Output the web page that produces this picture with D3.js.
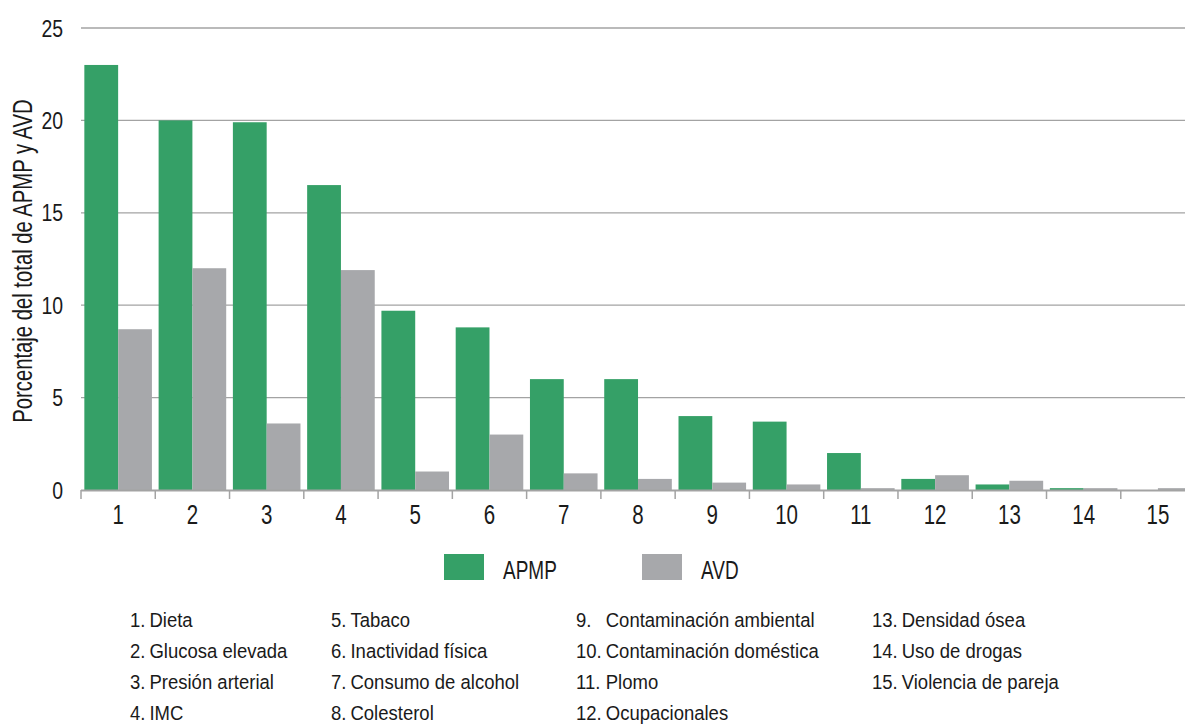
<!DOCTYPE html>
<html>
<head>
<meta charset="utf-8">
<script src="https://cdn.jsdelivr.net/npm/d3@7"></script>
<style>
  html, body { margin: 0; padding: 0; background: #ffffff; }
  svg { display: block; }
  text { font-family: "Liberation Sans", Arial, sans-serif; fill: #1a1a1a; }
</style>
</head>
<body>
<svg id="chart" width="1185" height="727"></svg>
<script>
const categories = ["1","2","3","4","5","6","7","8","9","10","11","12","13","14","15"];
const apmp = [23.0, 20.0, 19.9, 16.5, 9.7, 8.8, 6.0, 6.0, 4.0, 3.7, 2.0, 0.6, 0.3, 0.1, 0.0];
const avd  = [8.7, 12.0, 3.6, 11.9, 1.0, 3.0, 0.9, 0.6, 0.4, 0.3, 0.1, 0.8, 0.5, 0.1, 0.1];
const seriesNames = ["APMP", "AVD"];
const seriesColors = ["#35a067", "#a7a8ab"];
const yTicks = [0, 5, 10, 15, 20, 25];
const yTitle = "Porcentaje del total de APMP y AVD";
const riskLabels = [
  ["1.", "Dieta"], ["2.", "Glucosa elevada"], ["3.", "Presión arterial"], ["4.", "IMC"],
  ["5.", "Tabaco"], ["6.", "Inactividad física"], ["7.", "Consumo de alcohol"], ["8.", "Colesterol"],
  ["9.", "Contaminación ambiental"], ["10.", "Contaminación doméstica"], ["11.", "Plomo"], ["12.", "Ocupacionales"],
  ["13.", "Densidad ósea"], ["14.", "Uso de drogas"], ["15.", "Violencia de pareja"]
];

const svg = d3.select("#chart");
const left = 81, zeroY = 490, topY = 28;
const step = 74.27;
const x = d3.scaleBand().domain(categories)
  .range([left, left + step * categories.length])
  .paddingInner(0.09).paddingOuter(0.045);
const xs = d3.scaleBand().domain(seriesNames).range([0, x.bandwidth()]);
const y = d3.scaleLinear().domain([0, 25]).range([zeroY, topY]);

// condensed text helper: place at (px,py) and squeeze horizontally
function ctext(sel, px, py, sx) {
  return sel.attr("transform", `translate(${px},${py}) scale(${sx},1)`);
}

// gridlines
svg.append("g").selectAll("line").data(yTicks.filter(d => d > 0)).join("line")
  .attr("x1", left).attr("x2", 1185)
  .attr("y1", d => y(d)).attr("y2", d => y(d))
  .attr("stroke", "#a3a3a3").attr("stroke-width", 1.3);

// y tick labels
svg.append("g").selectAll("text").data(yTicks).join("text")
  .attr("transform", d => `translate(63,${y(d)}) scale(0.81,1)`)
  .attr("dy", "0.36em")
  .attr("text-anchor", "end").attr("font-size", 24)
  .text(d => d);

// bars
const series = [apmp, avd];
series.forEach((vals, si) => {
  svg.append("g").selectAll("rect").data(categories).join("rect")
    .attr("x", (c) => x(c) + xs(seriesNames[si]))
    .attr("width", xs.bandwidth())
    .attr("y", (c, i) => y(vals[i]))
    .attr("height", (c, i) => zeroY - y(vals[i]))
    .attr("fill", seriesColors[si]);
});

// x axis line and boundary ticks
const pad = x.step() * x.paddingInner() / 2;
svg.append("line").attr("x1", left).attr("x2", 1185)
  .attr("y1", zeroY + 0.5).attr("y2", zeroY + 0.5)
  .attr("stroke", "#a3a3a3").attr("stroke-width", 2);
const bounds = categories.map(c => x(c) - pad).concat([x(categories[categories.length - 1]) + x.bandwidth() + pad]);
svg.append("g").selectAll("line").data(bounds).join("line")
  .attr("x1", d => d).attr("x2", d => d)
  .attr("y1", zeroY).attr("y2", zeroY + 9)
  .attr("stroke", "#a3a3a3").attr("stroke-width", 1.5);
svg.append("g").selectAll("text").data(categories).join("text")
  .attr("transform", c => `translate(${x(c) + x.bandwidth() / 2},524) scale(0.76,1)`)
  .attr("text-anchor", "middle").attr("font-size", 27)
  .text(c => c);

// y title
svg.append("text")
  .attr("transform", "translate(32,261) rotate(-90) scale(0.75,1)")
  .attr("text-anchor", "middle").attr("font-size", 27)
  .text(yTitle);

// legend
const legendX = [444, 642];
seriesNames.forEach((n, i) => {
  svg.append("rect").attr("x", legendX[i]).attr("y", 554).attr("width", 40).attr("height", 26)
    .attr("fill", seriesColors[i]);
  ctext(svg.append("text"), legendX[i] + 59, 579, 0.76)
    .attr("font-size", 25).text(n);
});

// risk factor list
const colX = [130, 331, 576, 872];
const rowY = [627, 658, 689, 720];
const listScale = 0.95;
const list = svg.append("g").attr("font-size", 19.5);
const cols = d3.groups(riskLabels.map((r, i) => ({ r, i })), d => Math.floor(d.i / 4));
cols.forEach(([col, items]) => {
  const nums = items.map(({ r, i }) =>
    ctext(list.append("text"), colX[col], rowY[i % 4], listScale).text(r[0]));
  const maxW = d3.max(nums, t => t.node().getComputedTextLength()) * listScale;
  items.forEach(({ r, i }) => {
    ctext(list.append("text"), colX[col] + maxW + 4, rowY[i % 4], listScale).text(r[1]);
  });
});
</script>
</body>
</html>
